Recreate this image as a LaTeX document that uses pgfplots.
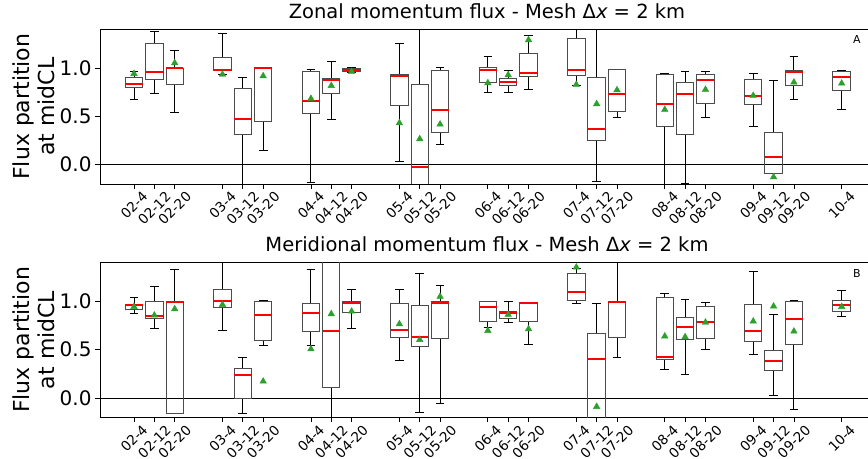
\documentclass[border=0pt]{standalone}
\usepackage{fontspec}
\setmainfont{DejaVu Sans}
\usepackage{graphicx}
\usepackage{pgfplots}
\pgfplotsset{compat=1.18}
\usepgfplotslibrary{statistics}
\definecolor{mgreen}{HTML}{2CA02C}
\newcommand{\rl}[1]{\rotatebox{45}{#1}}
\newcommand{\bx}[6]{\addplot[boxplot prepared={draw position=#1, lower whisker=#2, lower quartile=#3, median=#4, upper quartile=#5, upper whisker=#6}] coordinates {};}
\pgfplotsset{panel/.style={
  scale only axis, width=774bp, height=154.7bp,
  xmin=-1.671, xmax=36.364, ymin=-0.2, ymax=1.4,
  xtick={0,1,2,4.347,5.347,6.347,8.694,9.694,10.694,13.041,14.041,15.041,17.388,18.388,19.388,21.735,22.735,23.735,26.082,27.082,28.082,30.429,31.429,32.429,34.776},
  xticklabels={\rl{02-4},\rl{02-12},\rl{02-20},\rl{03-4},\rl{03-12},\rl{03-20},\rl{04-4},\rl{04-12},\rl{04-20},\rl{05-4},\rl{05-12},\rl{05-20},\rl{06-4},\rl{06-12},\rl{06-20},\rl{07-4},\rl{07-12},\rl{07-20},\rl{08-4},\rl{08-12},\rl{08-20},\rl{09-4},\rl{09-12},\rl{09-20},\rl{10-4}},
  ytick={0,0.5,1},
  tick pos=left, tick align=outside, major tick length=5bp,
  every tick/.style={black, line width=0.8bp},
  yticklabel style={font=\fontsize{20bp}{24bp}\selectfont, /pgf/number format/.cd, fixed, fixed zerofill, precision=1, assume math mode=true},
  xticklabel style={font=\fontsize{13.6bp}{15bp}\selectfont, anchor=north, inner sep=1.5bp},
  axis line style={line width=0.8bp},
  ylabel={Flux partition\\at midCL},
  ylabel style={at={(axis description cs:-0.085,0.5)}, anchor=center, align=center, font=\fontsize{22bp}{25bp}\selectfont},
  title style={at={(axis description cs:0.5,1)}, anchor=base, yshift=5bp, font=\fontsize{19.5bp}{22bp}\selectfont},
  boxplot/draw direction=y,
  boxplot/box extend=0.855, boxplot/whisker extend=0.4275,
  boxplot/every box/.style={draw=black!70, line width=1bp},
  boxplot/every whisker/.style={draw=black, line width=0.9bp},
  boxplot/every median/.style={draw=red, line width=2bp},
}}
\begin{document}
\begin{tikzpicture}
\path[use as bounding box] (0,0) rectangle (868bp,459bp);
% ---------------- Top panel ----------------
\begin{axis}[panel, at={(100bp,275bp)}, anchor=south west,
  title={Zonal momentum flux - Mesh Δ{\itshape x} = 2 km}]
\addplot[black, line width=0.8bp] coordinates {(-1.671,0) (36.364,0)};
\bx{0}{0.672}{0.793}{0.838}{0.903}{0.959}
\bx{1}{0.738}{0.876}{0.955}{1.255}{1.379}
\bx{2}{0.541}{0.824}{0.997}{0.997}{1.183}
\bx{4.347}{0.928}{0.969}{0.983}{1.110}{1.352}
\bx{5.347}{-0.5}{0.314}{0.469}{0.783}{0.907}
\bx{6.347}{0.148}{0.448}{0.997}{0.997}{1.010}
\bx{8.694}{-0.179}{0.534}{0.655}{0.966}{0.986}
\bx{9.694}{0.472}{0.741}{0.872}{0.893}{1.072}
\bx{10.694}{0.955}{0.962}{0.983}{0.993}{1.010}
\bx{13.041}{0.038}{0.607}{0.914}{0.931}{1.252}
\bx{14.041}{-0.6}{-0.4}{-0.028}{0.824}{1.8}
\bx{15.041}{0.214}{0.328}{0.562}{0.979}{1.007}
\bx{17.388}{0.752}{0.852}{0.976}{1.0}{1.114}
\bx{18.388}{0.745}{0.817}{0.859}{0.893}{0.972}
\bx{19.388}{0.783}{0.907}{0.945}{1.152}{1.341}
\bx{21.735}{0.821}{0.921}{0.976}{1.3}{1.6}
\bx{22.735}{-0.172}{0.252}{0.366}{0.9}{1.8}
\bx{23.735}{0.493}{0.548}{0.734}{0.983}{0.986}
\bx{26.082}{-0.5}{0.397}{0.631}{0.934}{0.948}
\bx{27.082}{-0.19}{0.307}{0.734}{0.852}{0.969}
\bx{28.082}{0.486}{0.628}{0.872}{0.934}{0.959}
\bx{30.429}{0.393}{0.621}{0.714}{0.876}{0.948}
\bx{31.429}{-0.093}{-0.093}{0.076}{0.328}{0.869}
\bx{32.429}{0.672}{0.817}{0.955}{0.969}{1.117}
\bx{34.776}{0.569}{0.769}{0.910}{0.966}{0.976}
\addplot[only marks, mark=triangle*, mark size=3.8bp, mgreen] coordinates {
(0,0.941) (2,1.052) (4.347,0.934) (6.347,0.917)
(8.694,0.683) (9.694,0.817) (10.694,0.962)
(13.041,0.431) (14.041,0.266) (15.041,0.417)
(17.388,0.845) (18.388,0.928) (19.388,1.290)
(21.735,0.828) (22.735,0.628) (23.735,0.772)
(26.082,0.569) (28.082,0.776)
(30.429,0.714) (31.429,-0.128) (32.429,0.852)
(34.776,0.841)};
\node[font=\fontsize{11bp}{13bp}\selectfont] at (axis description cs:0.978,0.931) {A};
\end{axis}
% ---------------- Bottom panel ----------------
\begin{axis}[panel, at={(100bp,41.7bp)}, anchor=south west,
  title={Meridional momentum flux - Mesh Δ{\itshape x} = 2 km}]
\addplot[black, line width=0.8bp] coordinates {(-1.671,0) (36.364,0)};
\bx{0}{0.879}{0.913}{0.958}{0.969}{1.044}
\bx{1}{0.724}{0.827}{0.851}{0.999}{1.158}
\bx{2}{-0.158}{-0.158}{0.996}{0.996}{1.327}
\bx{4.347}{0.703}{0.931}{1.007}{1.12}{1.6}
\bx{5.347}{-0.158}{-0.007}{0.241}{0.307}{0.42}
\bx{6.347}{0.548}{0.593}{0.855}{1.0}{1.007}
\bx{8.694}{0.548}{0.689}{0.875}{0.982}{1.327}
\bx{9.694}{-0.5}{0.11}{0.696}{1.6}{1.9}
\bx{10.694}{0.724}{0.889}{0.986}{0.999}{1.127}
\bx{13.041}{0.393}{0.624}{0.706}{0.975}{1.127}
\bx{14.041}{-0.145}{0.534}{0.627}{0.954}{1.289}
\bx{15.041}{-0.052}{0.62}{0.986}{0.996}{1.165}
\bx{17.388}{0.734}{0.793}{0.937}{0.999}{0.999}
\bx{18.388}{0.779}{0.827}{0.882}{0.896}{0.999}
\bx{19.388}{0.558}{0.793}{0.979}{0.986}{0.989}
\bx{21.735}{0.982}{1.013}{1.1}{1.289}{1.344}
\bx{22.735}{-0.6}{-0.4}{0.407}{0.669}{0.982}
\bx{23.735}{0.424}{0.624}{0.996}{0.996}{1.6}
\bx{26.082}{0.3}{0.393}{0.427}{1.034}{1.082}
\bx{27.082}{0.245}{0.6}{0.731}{0.83}{1.02}
\bx{28.082}{0.506}{0.62}{0.782}{0.941}{0.989}
\bx{30.429}{0.455}{0.589}{0.689}{0.969}{1.313}
\bx{31.429}{0.031}{0.282}{0.379}{0.496}{0.865}
\bx{32.429}{-0.121}{0.548}{0.82}{0.993}{1.007}
\bx{34.776}{0.838}{0.893}{0.958}{1.003}{1.113}
\addplot[only marks, mark=triangle*, mark size=3.8bp, mgreen] coordinates {
(0,0.944) (1,0.855) (2,0.92) (4.347,0.965) (6.347,0.172)
(8.694,0.506) (9.694,0.869) (10.694,0.896)
(13.041,0.765) (14.041,0.603) (15.041,1.048)
(17.388,0.696) (18.388,0.862) (19.388,0.713)
(21.735,1.351) (22.735,-0.09)
(26.082,0.638) (27.082,0.631) (28.082,0.782)
(30.429,0.793) (31.429,0.948) (32.429,0.689)
(34.776,0.944)};
\node[font=\fontsize{11bp}{13bp}\selectfont] at (axis description cs:0.978,0.931) {B};
\end{axis}
\end{tikzpicture}
\end{document}
